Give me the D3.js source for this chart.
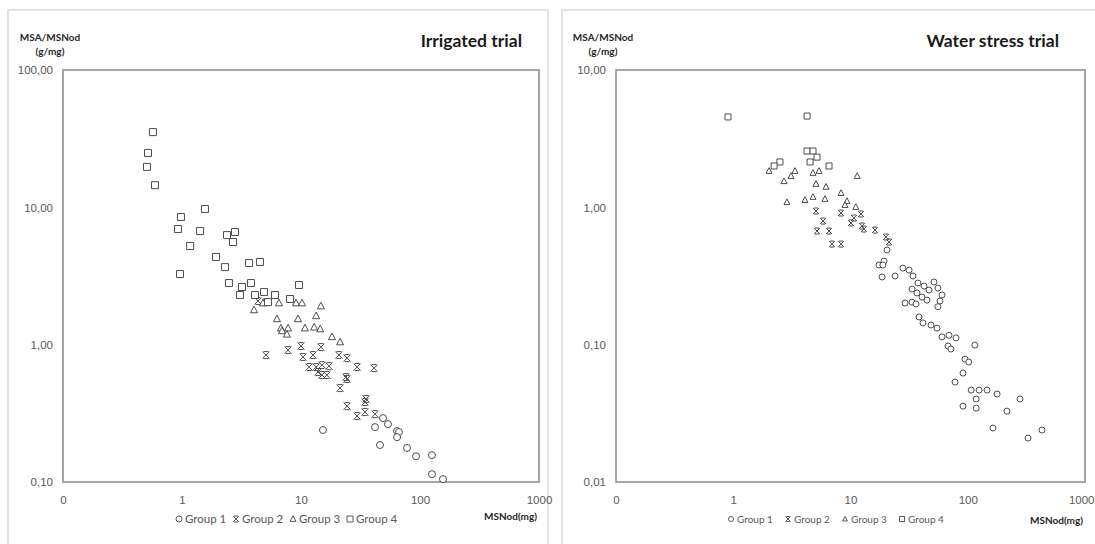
<!DOCTYPE html>
<html>
<head>
<meta charset="utf-8">
<script src="https://cdn.jsdelivr.net/npm/d3@7"></script>
<style>
  body { margin: 0; background: #fff; }
  svg { display: block; font-family: Lato, "Open Sans", sans-serif; }
</style>
</head>
<body>
<div id="chart"></div>
<script>
// ---- data: [MSNod (mg), MSA/MSNod (g/mg)] ----
const groupNames = ["Group 1", "Group 2", "Group 3", "Group 4"];
const xTicks = [0.1, 1, 10, 100, 1000];

// Irrigated trial
const irrG1 = [[48.9,0.292],[53.8,0.264],[41.9,0.251],[64.1,0.235],[66.6,0.231],[64.1,0.212],[46.1,0.186],
  [77.8,0.177],[92.6,0.154],[126,0.157],[126,0.114],[156,0.105],[15.3,0.239]];
const irrG2 = [[5.08,0.840],[7.78,0.913],[10.0,0.977],[14.7,0.960],[10.4,0.812],[12.6,0.840],[20.8,0.840],
  [24.4,0.799],[11.7,0.687],[13.4,0.687],[15.0,0.710],[17.2,0.698],[13.9,0.632],[15.0,0.601],[16.5,0.601],
  [29.6,0.687],[41.1,0.675],[23.9,0.581],[24.4,0.562],[21.3,0.483],[35.2,0.402],[34.5,0.382],[24.4,0.357],
  [29.6,0.302],[34.5,0.323],[41.9,0.312],[4.35,2.08],[5.08,2.04]];
const irrG3 = [[6.53,2.01],[9.08,2.01],[10.2,2.01],[14.7,1.91],[6.28,1.54],[9.44,1.54],[13.4,1.62],
  [6.79,1.32],[7.78,1.32],[10.8,1.32],[12.9,1.34],[14.5,1.30],[6.92,1.26],[7.62,1.19],[18.2,1.14],
  [21.3,1.045],[4.03,1.79],[4.79,2.01]];
const irrG4 = [[0.570,35.3],[0.518,24.9],[0.508,19.7],[0.593,14.5],[1.56,9.72],[0.98,8.50],[0.925,6.95],
  [1.42,6.72],[2.39,6.28],[2.79,6.61],[2.68,5.59],[1.17,5.23],[1.93,4.35],[2.30,3.67],[3.66,3.93],
  [4.52,4.00],[0.962,3.27],[2.48,2.81],[3.19,2.63],[3.80,2.81],[3.07,2.30],[4.11,2.30],[4.89,2.42],
  [6.05,2.30],[9.62,2.72],[8.09,2.15],[5.28,2.04]];

// Water stress trial
const wsG1 = [[20.5,0.489],[19.3,0.406],[17.5,0.380],[18.9,0.380],[18.6,0.311],[24.0,0.316],[28.0,0.361],
  [31.6,0.349],[34.1,0.316],[37.6,0.281],[42.4,0.267],[33.5,0.254],[36.9,0.238],[40.7,0.222],[46.7,0.250],
  [51.5,0.286],[55.7,0.258],[60.3,0.230],[44.9,0.211],[29.2,0.201],[33.5,0.204],[36.2,0.198],[58.0,0.208],
  [55.7,0.189],[38.4,0.159],[41.5,0.144],[48.6,0.139],[54.7,0.132],[60.3,0.114],[69.2,0.117],[79.4,0.112],
  [115,0.0993],[67.9,0.0977],[71.9,0.0929],[94.7,0.0785],[102,0.0747],[91.1,0.0621],[77.9,0.0534],
  [107,0.0467],[125,0.0467],[146,0.0467],[178,0.0437],[118,0.0402],[279,0.0402],[91.1,0.0357],
  [118,0.0345],[216,0.0328],[164,0.0247],[430,0.0239],[327,0.0209]];
const wsG2 = [[5.08,0.940],[8.30,0.909],[5.83,0.795],[5.18,0.672],[6.56,0.672],[6.95,0.540],[8.30,0.540],
  [12.3,0.894],[10.7,0.836],[10.1,0.769],[12.5,0.731],[13.0,0.695],[16.2,0.683],[20.1,0.608],[21.3,0.559]];
const wsG3 = [[2.02,1.84],[3.36,1.84],[3.11,1.69],[2.71,1.55],[4.79,1.78],[5.39,1.84],[11.4,1.69],
  [5.08,1.48],[6.18,1.41],[8.30,1.27],[2.87,1.09],[4.09,1.13],[4.79,1.19],[6.06,1.15],[9.33,1.11],
  [8.97,1.04],[11.1,1.005]];
const wsG4 = [[0.902,4.55],[4.26,4.62],[4.26,2.57],[4.79,2.57],[5.18,2.32],[4.52,2.14],[6.56,2.00],
  [2.50,2.14],[2.23,2.00]];

const width = 1095, height = 544;
const svg = d3.select("#chart").append("svg")
  .attr("width", width)
  .attr("height", height);

// marker shapes, s = half size
function markerPath(g, s) {
  if (g === 0) return d3.symbol(d3.symbolCircle, Math.PI * s * s)();
  if (g === 1) return `M${-s},${-s}L${s},${s}M${s},${-s}L${-s},${s}M${-s*0.7},${-s}L${s*0.7},${-s}M${-s*0.7},${s}L${s*0.7},${s}`;
  if (g === 2) return `M0,${-s*1.1}L${s},${s*0.8}L${-s},${s*0.8}Z`;
  return `M${-s},${-s}H${s}V${s}H${-s}Z`;
}

const commaFmt = d => d3.format(".2f")(d).replace(".", ",");

function drawPanel(cfg) {
  // outer chart area border
  svg.append("rect")
    .attr("x", cfg.outer[0]).attr("y", 10)
    .attr("width", cfg.outer[1] - cfg.outer[0]).attr("height", 560)
    .attr("fill", "#fff").attr("stroke", "#d9d9d9").attr("stroke-width", 1.5);

  const x = d3.scaleLog().domain([0.1, 1000]).range([cfg.left, cfg.right]);
  const y = d3.scaleLog().domain(cfg.yDomain).range([482, 70]);

  const xAxis = svg.append("g")
    .attr("transform", `translate(0,482)`)
    .call(d3.axisBottom(x).tickValues(xTicks).tickSize(0).tickPadding(14)
      .tickFormat(d => d < 1 ? "0" : d3.format("d")(d)))
    .call(g => g.select(".domain").remove());
  xAxis.selectAll("text").attr("fill", "#595959").attr("font-size", 11.5);
  if (cfg.clipLast) {
    // keep the last label inside the window
    xAxis.selectAll("text").filter(d => d === 1000)
      .attr("text-anchor", "end").attr("dx", 9);
  }

  svg.append("g")
    .attr("transform", `translate(${cfg.left},0)`)
    .call(d3.axisLeft(y).tickValues(cfg.yTicks).tickSize(0).tickPadding(10).tickFormat(commaFmt))
    .call(g => g.select(".domain").remove())
    .selectAll("text").attr("fill", "#595959").attr("font-size", 11.5);

  // plot frame
  svg.append("rect")
    .attr("x", cfg.left).attr("y", 70)
    .attr("width", cfg.right - cfg.left).attr("height", 412)
    .attr("fill", "none").attr("stroke", "#a6a6a6").attr("stroke-width", 2);

  // points, drawn from group 1 up
  cfg.groups.forEach((pts, gi) => {
    svg.append("g").selectAll("path")
      .data(pts)
      .join("path")
      .attr("transform", d => `translate(${x(d[0])},${y(d[1])})`)
      .attr("d", markerPath(gi, cfg.ms))
      .attr("fill", gi === 1 ? "none" : "#fff")
      .attr("stroke", "#4d4d4d")
      .attr("stroke-width", 1);
  });

  // titles
  svg.append("text")
    .attr("x", cfg.titleX).attr("y", 47)
    .attr("text-anchor", "end")
    .attr("font-size", 17.5).attr("font-weight", "bold").attr("fill", "#1a1a1a")
    .text(cfg.title);

  const yl = svg.append("text")
    .attr("font-size", 10).attr("font-weight", "bold").attr("fill", "#262626")
    .attr("text-anchor", "middle");
  yl.append("tspan").attr("x", cfg.yLabelX).attr("y", 41).text("MSA/MSNod");
  yl.append("tspan").attr("x", cfg.yLabelX).attr("y", 55).text("(g/mg)");

  svg.append("text")
    .attr("x", cfg.right - 2).attr("y", cfg.xLabelY)
    .attr("text-anchor", "end")
    .attr("font-size", 10).attr("font-weight", "bold").attr("fill", "#262626")
    .text("MSNod(mg)");

  // legend
  const leg = svg.append("g").attr("transform", `translate(${cfg.legendX},519)`);
  groupNames.forEach((name, i) => {
    const item = leg.append("g").attr("transform", `translate(${i * cfg.legendStep},0)`);
    item.append("path")
      .attr("transform", "translate(4,0)")
      .attr("d", markerPath(i, cfg.ms - 0.5))
      .attr("fill", i === 1 ? "none" : "#fff")
      .attr("stroke", "#595959");
    item.append("text")
      .attr("x", 10).attr("dy", "0.35em")
      .attr("font-size", cfg.legendFont).attr("fill", "#595959")
      .text(name);
  });
}

drawPanel({
  outer: [8, 548], left: 63, right: 539,
  yDomain: [0.1, 100], yTicks: [0.1, 1, 10, 100],
  groups: [irrG1, irrG2, irrG3, irrG4], ms: 3.5,
  title: "Irrigated trial", titleX: 522, yLabelX: 50, xLabelY: 520,
  legendX: 175, legendStep: 57, legendFont: 11.5, clipLast: false
});

drawPanel({
  outer: [562, 1100], left: 616, right: 1085,
  yDomain: [0.01, 10], yTicks: [0.01, 0.1, 1, 10],
  groups: [wsG1, wsG2, wsG3, wsG4], ms: 3,
  title: "Water stress trial", titleX: 1059, yLabelX: 603, xLabelY: 524,
  legendX: 727, legendStep: 57, legendFont: 10, clipLast: true
});
</script>
</body>
</html>
